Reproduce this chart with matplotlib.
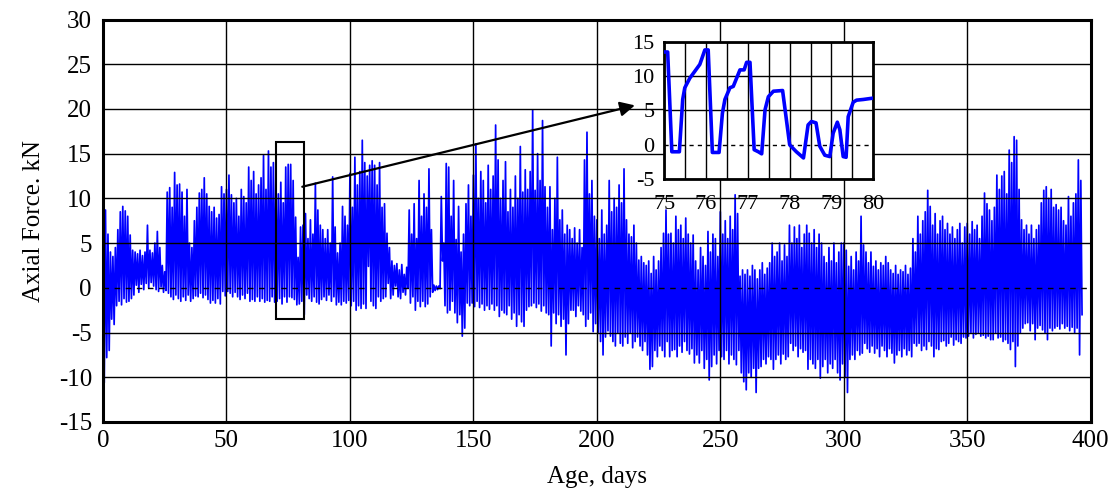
import numpy as np
import matplotlib
matplotlib.use("Agg")
import matplotlib.pyplot as plt
from matplotlib.patches import Rectangle

plt.rcParams['font.family'] = ['Liberation Serif', 'DejaVu Serif']
plt.rcParams['axes.unicode_minus'] = False

# daily peak / trough of axial force (kN), day 0 .. 396
force_hi = [
    15.2, 8.7, 6.0, 4.0, 3.5, 4.5, 6.5, 8.5, 9.1, 8.6,
    8.0, 5.9, 4.2, 4.0, 3.8, 4.2, 3.6, 4.0, 7.0, 4.2,
    3.9, 5.0, 6.3, 4.5, 2.5, 1.8, 10.7, 11.2, 9.0, 12.9,
    11.5, 11.6, 10.7, 8.0, 11.0, 5.0, 4.5, 7.5, 9.0, 10.6,
    11.0, 12.3, 10.5, 9.1, 8.5, 9.0, 7.8, 8.2, 11.3, 10.5,
    11.0, 12.6, 10.4, 9.5, 10.0, 8.0, 11.0, 10.2, 9.5, 13.5,
    12.0, 13.0, 10.5, 11.5, 12.3, 14.8, 11.0, 15.3, 13.5, 14.0,
    12.2, 10.5, 11.8, 9.5, 13.5, 13.8, 13.8, 12.0, 7.9, 3.4,
    6.8, 7.0, 8.3, 5.5, 7.6, 6.0, 11.7, 8.7, 7.0, 6.5,
    5.5, 6.5, 5.0, 12.4, 6.8, 3.9, 5.0, 9.1, 8.0, 7.0,
    12.8, 9.0, 14.6, 11.5, 13.0, 16.5, 14.0, 12.5, 13.7, 14.2,
    13.7, 11.5, 14.0, 9.0, 9.4, 6.1, 4.5, 3.0, 2.5, 2.7,
    2.0, 2.6, 1.5, 2.3, 8.7, 6.0, 9.4, 5.5, 12.0, 8.0,
    10.5, 9.0, 13.3, 6.5, 0.3, 0.2, 0.2, 10.2, 5.0, 13.9,
    13.5, 8.0, 12.0, 5.4, 9.1, 4.0, 6.0, 9.4, 11.5, 8.0,
    12.6, 16.1, 10.0, 13.0, 12.0, 9.5, 13.7, 11.0, 12.5, 18.2,
    14.3, 10.0, 12.0, 14.1, 8.5, 11.0, 9.0, 12.5, 10.0, 15.8,
    10.7, 13.2, 11.0, 13.0, 19.9, 10.9, 15.0, 12.0, 18.7, 11.3,
    9.0, 11.3, 6.5, 10.0, 14.6, 7.6, 8.7, 6.0, 7.0, 6.5,
    5.5, 6.7, 5.0, 6.5, 4.5, 14.3, 17.4, 10.5, 12.0, 8.0,
    7.6, 5.5, 8.7, 6.0, 7.0, 12.0, 8.5, 10.0, 9.0, 11.5,
    9.5, 13.3, 7.6, 6.0, 5.7, 7.0, 5.0, 3.1, 3.5, 2.8,
    2.5, 3.0, 1.6, 3.5, 2.0, 3.0, 4.5, 6.1, 8.7, 6.0,
    6.1, 5.0, 8.0, 6.5, 7.0, 5.5, 7.8, 6.0, 5.0, 5.9,
    3.0, 2.0, 4.5, 3.5, 2.5, 6.3, 4.0, 6.0, 5.5, 3.5,
    8.5, 6.0, 7.5, 5.5, 8.0, 6.5, 10.4, 8.3, 1.3, 2.0,
    1.5, 2.0, 1.3, 2.5, 2.0, 1.0, 2.0, 2.8, 1.5, 2.2,
    2.8, 5.0, 3.5, 4.0, 5.0, 3.0, 4.8, 3.5, 7.0, 5.0,
    6.8, 5.5, 7.0, 4.5, 6.0, 7.0, 6.1, 5.0, 6.5, 4.5,
    6.0, 5.0, 3.5, 2.8, 4.5, 3.0, 5.0, 2.8, 4.0, 5.0,
    5.0, 4.2, 2.4, 3.5, 2.0, 4.0, 3.0, 8.0, 4.8, 4.0,
    2.8, 4.0, 2.4, 3.0, 2.0, 2.8, 2.5, 3.5, 2.8, 2.0,
    1.6, 2.5, 1.5, 2.0, 1.8, 2.5, 1.5, 2.2, 5.5, 4.0,
    8.0, 6.0, 7.5, 8.5, 10.9, 9.1, 7.0, 8.3, 6.0, 7.5,
    8.0, 6.5, 7.2, 6.0, 6.8, 5.5, 6.5, 7.2, 5.0, 6.8,
    7.2, 6.0, 7.4, 6.5, 7.0, 5.5, 8.0, 10.6, 9.4, 8.7,
    7.5, 9.0, 12.6, 11.0, 12.5, 13.0, 10.5, 15.4, 14.0, 16.9,
    16.5, 11.0, 7.6, 6.5, 7.0, 6.0, 7.0, 5.5, 6.5, 7.0,
    9.5, 10.9, 11.3, 10.0, 11.0, 9.0, 9.3, 8.7, 9.0, 7.5,
    7.0, 10.2, 8.0, 9.5, 10.5, 14.3, 12.0,
]
force_lo = [
    -10.6, -7.8, -7.0, -3.5, -4.1, -2.0, -1.5, -1.9, -1.2, -1.6,
    -1.5, -1.2, -0.8, 0.3, -0.5, 0.4, -0.2, 0.5, 0.0, 0.6,
    0.2, -0.2, -0.4, 0.1, -0.5, -0.3, -0.6, -1.0, -1.3, -0.8,
    -1.2, -1.5, -1.0, -1.4, -0.8, -1.5, -1.2, -0.9, -1.0, -0.6,
    -1.1, -0.8, -1.3, -1.7, -1.4, -1.7, -1.2, -1.8, -0.4, -0.9,
    -0.4, -0.6, -1.0, -0.5, -1.0, -1.3, -0.8, -1.2, -0.6, -1.5,
    -1.3, -1.5, -1.0, -1.5, -1.2, -1.6, -1.4, -1.5, -1.0, -1.6,
    -1.5, -1.2, -1.8, -1.0, -1.6, -1.0, -1.1, -1.3, -1.9, -1.8,
    -1.5, -3.0, -0.8, -1.2, -1.5, -1.0, -1.6, -1.8, -1.3, -1.0,
    -1.4, -0.8, -1.5, -1.0, -1.9, -1.6, -1.9, -1.5, -1.7, -1.4,
    -2.0, -1.5, -2.5, -2.0, -2.3, -1.8, -2.3, 2.4, -1.5, -2.0,
    -2.3, -1.0, -1.5, -1.2, -1.0, 0.5, -1.2, -0.8, 0.2, -1.0,
    -1.2, -0.5, -0.8, 0.0, -1.7, -1.0, -2.5, -1.5, -2.1, -1.5,
    -2.1, -1.8, -1.0, -0.5, -0.3, -0.2, -0.1, 3.0, -2.0, -2.8,
    -2.5, -1.5, -2.8, -3.9, -3.0, -5.4, -4.5, -1.7, -2.0, -1.7,
    -2.1, -1.5, -2.2, -1.8, -2.5, -2.0, -2.4, -1.8, -2.5, -2.0,
    -3.2, -2.5, -2.8, -3.0, -2.0, -3.5, -2.8, -4.3, -3.0, -3.8,
    -4.3, -2.5, -2.1, -2.0, -1.7, -2.2, -1.8, -2.6, -2.0, -2.8,
    -3.0, -6.5, -2.8, -4.0, -3.0, -4.3, -3.5, -7.5, -4.0, -2.5,
    -2.5, -3.2, -2.0, -2.6, -3.0, -4.3, -3.5, -2.8, -4.9, -4.0,
    -5.0, -6.0, -7.5, -5.5, -4.8, -5.4, -6.0, -6.5, -5.0, -6.2,
    -6.5, -5.5, -6.2, -5.0, -6.7, -6.0, -5.5, -6.5, -7.0, -6.0,
    -7.5, -9.1, -8.8, -7.0, -7.7, -6.5, -7.0, -7.7, -6.0, -7.7,
    -7.0, -6.9, -7.7, -6.5, -7.2, -6.0, -7.0, -7.4, -6.8, -8.4,
    -7.5, -8.4, -7.0, -9.0, -8.0, -10.3, -8.8, -7.5, -8.5, -7.0,
    -7.7, -8.0, -7.0, -8.5, -7.5, -8.0, -8.6, -7.0, -9.5, -10.5,
    -11.4, -9.5, -10.0, -9.0, -11.7, -9.0, -8.8, -8.0, -8.5, -7.7,
    -8.0, -9.1, -8.0, -7.5, -8.5, -7.4, -8.0, -7.7, -6.2, -7.0,
    -6.5, -7.7, -6.8, -7.2, -7.0, -9.1, -8.0, -8.5, -9.0, -8.0,
    -10.1, -8.8, -8.0, -9.5, -8.5, -9.0, -8.0, -9.5, -10.3, -8.5,
    -10.0, -11.7, -8.0, -7.5, -8.0, -7.0, -7.5, -7.3, -6.2, -6.8,
    -7.2, -6.5, -7.3, -6.8, -7.7, -6.5, -7.0, -7.7, -6.8, -7.3,
    -8.4, -7.5, -7.0, -7.7, -6.8, -7.5, -7.0, -7.7, -6.2, -6.5,
    -6.2, -7.0, -6.5, -6.9, -6.0, -6.5, -7.7, -6.8, -6.9, -6.0,
    -5.9, -6.5, -6.2, -5.5, -6.4, -5.8, -6.0, -6.2, -5.5, -5.6,
    -5.4, -5.0, -5.6, -5.2, -5.0, -5.4, -5.3, -5.6, -5.4, -5.8,
    -5.8, -5.0, -5.6, -5.5, -6.0, -5.8, -6.2, -6.9, -6.0, -8.8,
    -6.5, -5.0, -4.5, -4.0, -3.9, -4.8, -4.0, -5.8, -4.5, -4.2,
    -4.7, -5.0, -5.8, -4.5, -4.8, -4.5, -4.3, -4.6, -4.0, -4.5,
    -4.3, -4.8, -4.4, -5.0, -4.5, -7.5, -3.0,
]

# detail of days 75-80 (inset)
inset_day = [75.0, 75.08, 75.18, 75.36, 75.44, 75.49, 75.61, 75.85, 75.97, 76.05,
             76.15, 76.31, 76.39, 76.45, 76.57, 76.65, 76.73, 76.81, 76.91, 76.97,
             77.05, 77.15, 77.25, 77.33, 77.41, 77.49, 77.61, 77.83, 78.0, 78.16,
             78.33, 78.44, 78.52, 78.63, 78.72, 78.84, 78.96, 79.04, 79.14, 79.2,
             79.28, 79.35, 79.4, 79.52, 79.6, 79.76, 80.0]
inset_force = [13.5, 13.5, -1.0, -1.0, 6.6, 8.3, 9.7, 11.7, 13.8, 13.8,
               -1.1, -1.1, 4.6, 6.6, 8.3, 8.5, 9.7, 10.9, 10.9, 12.0,
               12.0, -0.7, -1.0, -1.3, 5.1, 7.0, 7.8, 7.9, 0.0, -1.0,
               -1.9, 2.9, 3.4, 3.2, -0.2, -1.5, -1.7, 1.7, 3.3, 2.2,
               -1.7, -1.8, 4.1, 6.2, 6.5, 6.6, 6.8]

days = np.arange(len(force_hi))
t = np.column_stack([days, days + 0.5]).ravel()
f = np.column_stack([force_hi, force_lo]).ravel()

fig = plt.figure(figsize=(11.15, 4.95), dpi=100)
ax = fig.add_axes([0.0924, 0.1475, 0.8858, 0.8131])

ax.plot(t, f, color='#0000ff', lw=1.25)
ax.set_xlim(0, 400)
ax.set_ylim(-15, 30)
ax.set_xticks(np.arange(0, 401, 50))
ax.set_yticks(np.arange(-15, 31, 5))
ax.grid(True, color='black', lw=1.0)
for gl, v in zip(ax.get_ygridlines(), np.arange(-15, 31, 5)):
    if v == 0:
        gl.set_linestyle((0, (4, 4)))
ax.set_axisbelow(False)
for s in ax.spines.values():
    s.set_linewidth(2.2)
ax.tick_params(length=0, labelsize=18, pad=8)
ax.tick_params(axis='x', pad=6)
ax.set_xlabel('Age, days', fontsize=18, labelpad=10)
ax.set_ylabel('Axial Force. kN', fontsize=18, labelpad=10)

# zoom box and arrow
ax.add_patch(Rectangle((70, -3.5), 11.5, 19.8, fill=False, ec='black', lw=1.5, zorder=4))
ax.annotate('', xy=(215.4, 20.4), xytext=(80.7, 11.3),
            arrowprops=dict(arrowstyle='-|>', color='black', lw=1.6,
                            mutation_scale=22, shrinkA=0, shrinkB=0), zorder=5)

ins = fig.add_axes([0.5958, 0.6378, 0.1874, 0.278])
ins.set_facecolor('white')
ins.plot(inset_day, inset_force, color='#0000ff', lw=2.6, zorder=3)
ins.set_xlim(75, 80)
ins.set_ylim(-5, 15)
ins.set_xticks(np.arange(75, 80.1, 0.5))
ins.set_xticklabels(['75', '', '76', '', '77', '', '78', '', '79', '', '80'])
ins.set_yticks([-5, 0, 5, 10, 15])
ins.grid(True, color='black', lw=1.0)
for gl, v in zip(ins.get_ygridlines(), [-5, 0, 5, 10, 15]):
    if v == 0:
        gl.set_linestyle((0, (3, 3)))
for s in ins.spines.values():
    s.set_linewidth(2.0)
ins.tick_params(length=0, labelsize=16, pad=7)
ins.tick_params(axis='x', pad=11)

fig.savefig('out.png', dpi=100)
